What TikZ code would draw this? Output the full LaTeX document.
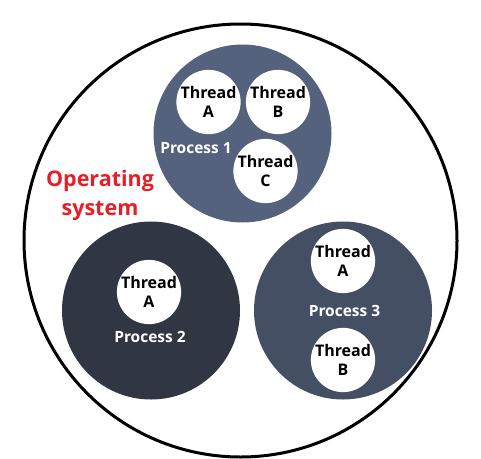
\documentclass[tikz,border=0pt]{standalone}
\usepackage{fontspec}
\setmainfont{Open Sans}
\begin{document}
\begin{tikzpicture}[x=1pt,y=-1pt,
  proc/.style={circle,inner sep=0pt,minimum size=178pt},
  thr/.style={circle,fill=white,inner sep=0pt,minimum size=60pt,align=center,
    font=\bfseries\fontsize{16}{19.5}\selectfont,text=black},
  plabel/.style={text=white,font=\bfseries\fontsize{15.5}{18}\selectfont},
  oslabel/.style={text=osred,align=center,font=\fontsize{21.5}{29}\selectfont\bfseries}]
\definecolor{pone}{RGB}{85,98,125}
\definecolor{ptwo}{RGB}{48,54,66}
\definecolor{pthree}{RGB}{68,79,99}
\definecolor{osred}{RGB}{230,30,40}
\useasboundingbox (0,0) rectangle (481,458);
\node[proc,fill=pone] (p1) at (242.5,133.5) {};
\node[proc,fill=ptwo] (p2) at (151,310.5) {};
\node[proc,fill=pthree] (p3) at (343,310.5) {};
\node[circle,draw=black,line width=3pt,inner sep=0pt,minimum size=433pt] (os) at (240.5,240.5) {};
\node[thr] (t1a) at (208.5,102) {Thread\\A};
\node[thr] (t1b) at (278,102) {Thread\\B};
\node[thr] (t1c) at (265.5,171) {Thread\\C};
\node[plabel] (l1) at (196,148) {Process 1};
\node[thr] (t2a) at (149,292) {Thread\\A};
\node[plabel] (l2) at (150,337) {Process 2};
\node[thr] (t3a) at (343,261) {Thread\\A};
\node[thr] (t3b) at (343,360) {Thread\\B};
\node[plabel] (l3) at (344.5,311) {Process 3};
\node[oslabel] (osl) at (100,195) {Operating\\system};
\end{tikzpicture}
\end{document}
